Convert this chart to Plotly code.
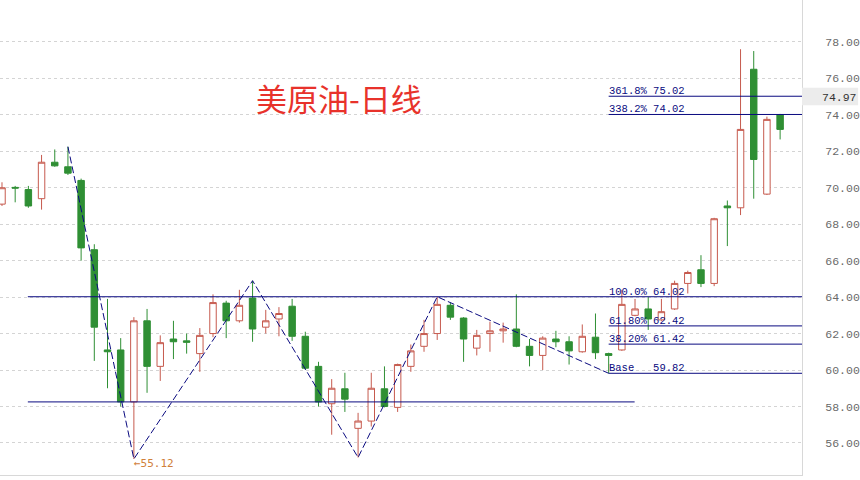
import plotly.graph_objects as go

# ---------------- data ----------------
opens = [69.1, 70.02, 69.9, 69.4, 71.4, 71.15, 70.4, 66.6, 61.1, 61.1,
         58.25, 62.7, 60.2, 61.7, 61.6, 60.9, 62.0, 63.67, 62.7, 63.95,
         62.35, 62.8, 63.5, 61.85, 60.2, 58.15, 58.97, 56.8, 57.2, 58.97,
         57.95, 60.2, 61.3, 62.0, 63.55, 62.85, 61.2, 62.0, 62.15, 62.25,
         61.3, 60.8, 61.7, 61.55, 61.0, 61.8, 60.9, 61.1, 63.0, 63.35,
         62.75, 63.35, 64.75, 65.5, 64.75, 69.0, 68.9, 76.5, 69.65, 74.0]
highs = [70.3, 70.1, 70.1, 71.8, 72.1, 72.25, 70.5, 66.9, 63.9, 61.75,
         62.9, 63.35, 61.9, 62.7, 62.0, 62.3, 64.15, 63.8, 64.4, 64.9,
         63.3, 63.45, 63.9, 62.1, 60.45, 59.5, 59.85, 57.65, 59.85, 60.2,
         60.35, 61.4, 62.75, 64.02, 63.7, 62.9, 62.2, 62.65, 62.6, 64.15,
         61.7, 61.85, 62.15, 61.85, 62.5, 63.1, 60.95, 64.4, 63.9, 64.0,
         63.9, 64.9, 65.45, 66.3, 68.35, 69.3, 77.6, 77.5, 73.9, 74.05]
lows = [69.0, 69.2, 68.9, 68.8, 71.15, 70.7, 66.0, 60.5, 59.0, 58.0,
        55.12, 58.75, 59.4, 60.6, 60.9, 59.9, 61.8, 61.75, 62.6, 61.55,
        62.0, 61.85, 61.6, 60.0, 58.0, 56.45, 57.7, 55.2, 56.9, 57.95,
        57.7, 59.9, 61.0, 61.65, 62.75, 60.45, 60.8, 61.0, 61.5, 61.25,
        60.2, 60.0, 61.25, 60.3, 60.95, 60.6, 59.82, 61.05, 62.95, 62.2,
        62.7, 63.3, 64.2, 64.55, 64.6, 66.8, 68.5, 69.4, 69.6, 72.65]
closes = [70.0, 69.98, 69.0, 71.4, 71.2, 70.8, 66.7, 62.35, 61.0, 58.25,
          62.7, 60.2, 61.5, 61.55, 61.52, 61.9, 63.7, 62.7, 63.55, 62.25,
          62.7, 63.1, 61.85, 60.1, 58.25, 59.0, 58.4, 57.2, 59.0, 58.0,
          60.3, 61.05, 62.0, 63.6, 62.9, 61.7, 61.9, 62.15, 62.25, 61.3,
          60.8, 61.75, 61.55, 61.05, 61.85, 60.95, 60.8, 63.6, 63.35, 62.8,
          63.2, 64.75, 65.35, 64.75, 68.3, 68.9, 73.2, 71.55, 73.75, 73.2]
bars = list(range(len(opens)))

zigzag_x = [5, 10, 19, 27, 33, 46]
zigzag_y = [72.25, 55.12, 64.9, 55.2, 64.02, 59.82]

neck_level = 64.02
support_level = 58.25
fib_names = ["361.8%", "338.2%", "100.0%", "61.80%", "38.20%", "Base"]
fib_values = [75.02, 74.02, 64.02, 62.42, 61.42, 59.82]

y_ticks = [56, 58, 60, 62, 64, 66, 68, 70, 72, 74, 76, 78]
last_price = 74.97
low_label = "←55.12"
title_text = "美原油-日线"

# ---------------- figure ----------------
RED = "#c65a4e"
GREEN = "#2f8f34"
NAVY = "#0a0a80"
MONO = "Liberation Mono, DejaVu Sans Mono, monospace"

X0, X1 = -0.151, 60.66
Y0, Y1 = 54.24, 80.30

fig = go.Figure()
fig.add_trace(go.Candlestick(
    x=bars, open=opens, high=highs, low=lows, close=closes,
    increasing=dict(line=dict(color=RED, width=1), fillcolor="#ffffff"),
    decreasing=dict(line=dict(color=GREEN, width=1), fillcolor=GREEN),
    whiskerwidth=0, hoverinfo="skip", showlegend=False,
))

fig.add_trace(go.Scatter(
    x=zigzag_x, y=zigzag_y, mode="lines",
    line=dict(color=NAVY, width=1, dash="7px,3px"),
    hoverinfo="skip", showlegend=False,
))

shapes = []
line_start = 1.96
support_end = 47.97
fib_start = 46.0
shapes.append(dict(type="line", xref="x", yref="y", x0=line_start, x1=X1,
                   y0=neck_level, y1=neck_level, line=dict(color=NAVY, width=1)))
shapes.append(dict(type="line", xref="x", yref="y", x0=line_start, x1=support_end,
                   y0=support_level, y1=support_level, line=dict(color=NAVY, width=1)))
annotations = []
for name, val in zip(fib_names, fib_values):
    if val != neck_level:
        shapes.append(dict(type="line", xref="x", yref="y", x0=fib_start, x1=X1,
                           y0=val, y1=val, line=dict(color=NAVY, width=1)))
    label = name.ljust(7).replace(" ", "\u00a0") + "%.2f" % val
    annotations.append(dict(x=fib_start, y=val, xref="x", yref="y", text=label,
                            showarrow=False, xanchor="left", yanchor="bottom",
                            xshift=-2, yshift=-3,
                            font=dict(family=MONO, size=10.5, color=NAVY)))

# last price box on the axis
shapes.append(dict(type="rect", xref="paper", yref="y", x0=1.0, x1=1.07,
                   y0=last_price - 0.45, y1=last_price + 0.52,
                   fillcolor="#ececec", line=dict(width=0), layer="above"))
annotations.append(dict(x=1.0, y=last_price, xref="paper", yref="y",
                        text="%.2f" % last_price, showarrow=False,
                        xanchor="left", yanchor="middle", xshift=18,
                        font=dict(family=MONO, size=11.5, color="#333333")))

annotations.append(dict(x=10, y=55.12, xref="x", yref="y", text=low_label,
                        showarrow=False, xanchor="left", yanchor="middle",
                        xshift=-2, yshift=-5,
                        font=dict(family="DejaVu Sans Mono, monospace", size=11,
                                  color="#d0803a")))

annotations.append(dict(x=340 / 805, y=1 - 97 / 475, xref="paper", yref="paper",
                        text=title_text, showarrow=False,
                        xanchor="center", yanchor="middle",
                        font=dict(family="Noto Sans CJK SC", size=31, color="#e8322b")))

fig.update_layout(
    width=860, height=480,
    margin=dict(l=0, r=55, t=0, b=5),
    paper_bgcolor="#ffffff", plot_bgcolor="#ffffff",
    shapes=shapes, annotations=annotations,
    boxgap=0.3,
    xaxis=dict(range=[X0, X1], showgrid=False, zeroline=False, showticklabels=False,
               ticks="", showline=True, linecolor="#d8d8d8", linewidth=1,
               rangeslider=dict(visible=False), fixedrange=True),
    yaxis=dict(range=[Y0, Y1], side="right", tickvals=y_ticks,
               ticktext=["%.2f" % v for v in y_ticks],
               showgrid=True, gridcolor="#d4d4d4", griddash="dot", gridwidth=1,
               zeroline=False, showline=True, linecolor="#d8d8d8", linewidth=1,
               ticks="", ticklabelstandoff=20, fixedrange=True,
               tickfont=dict(family=MONO, size=11.5, color="#6a6a6a")),
)

fig.write_html("out.html", config={"displayModeBar": False},
               post_script="document.body.style.margin='0px';")
